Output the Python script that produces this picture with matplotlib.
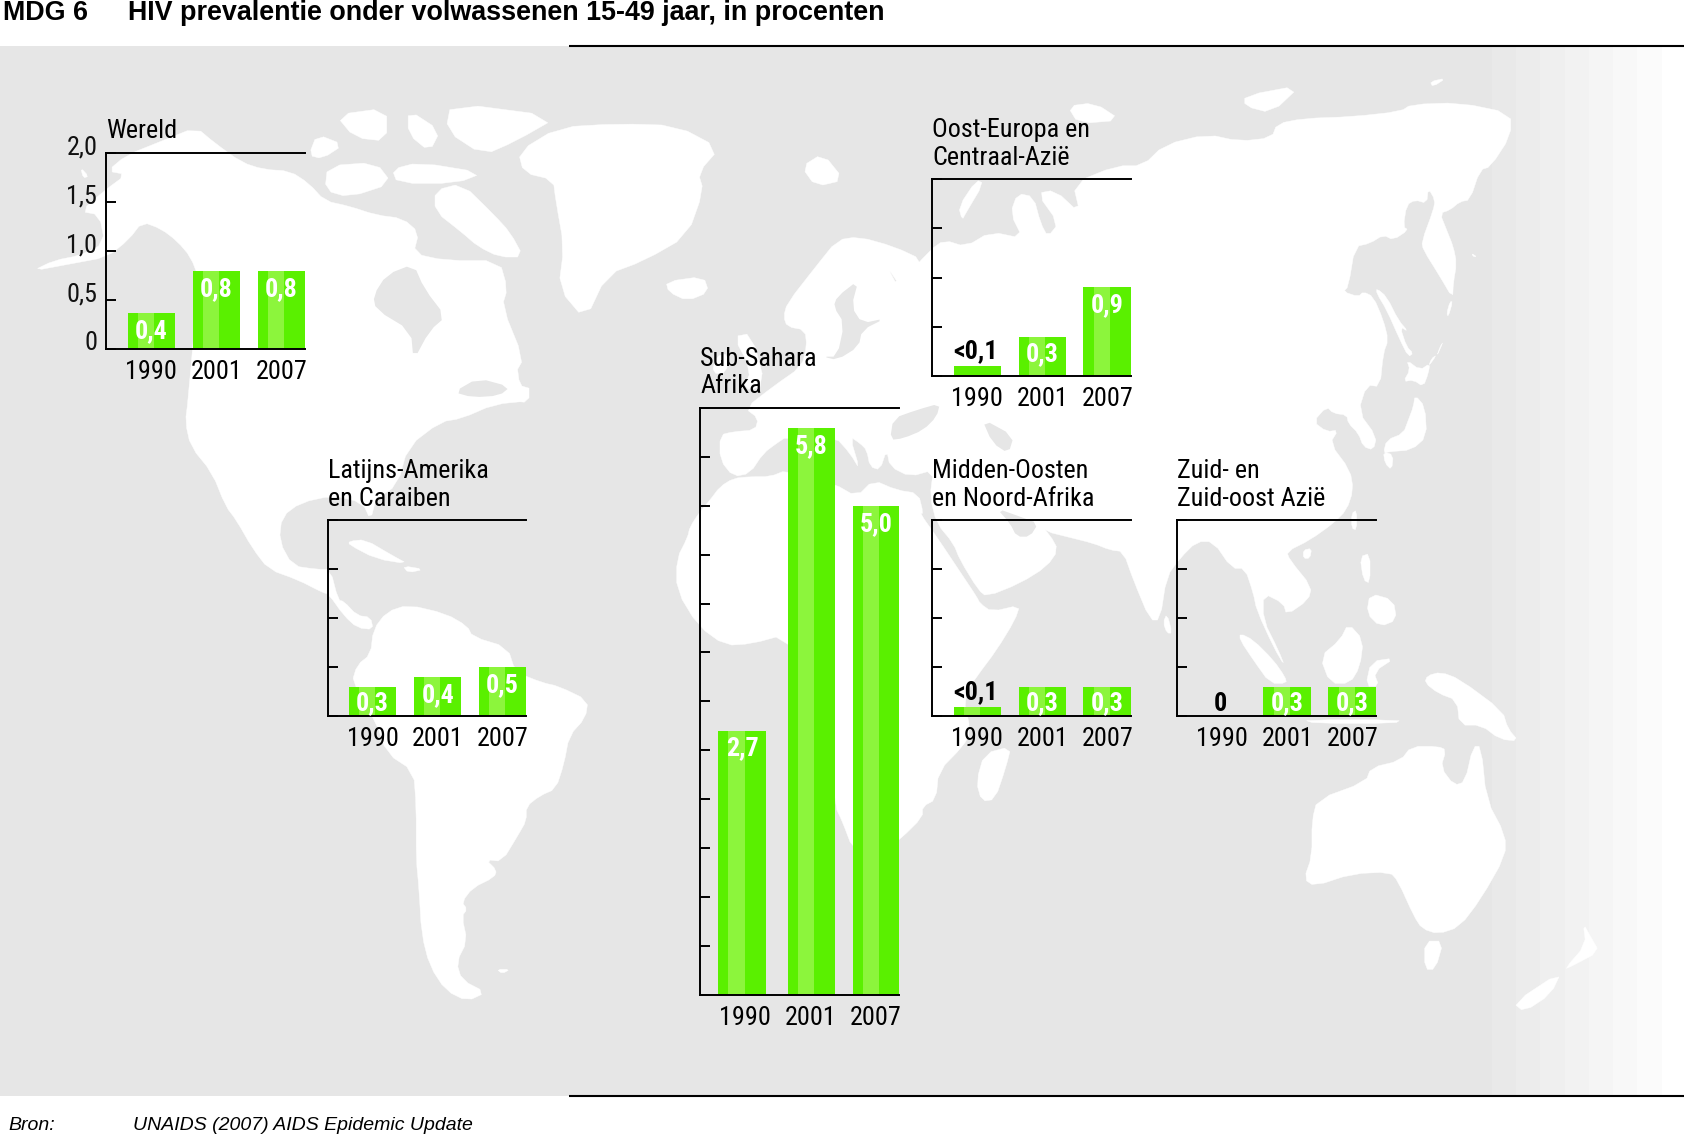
import matplotlib
matplotlib.use("Agg")
import matplotlib.pyplot as plt
from matplotlib.patches import Polygon, Rectangle

# ---------- data ----------
YEARS = ["1990", "2001", "2007"]
WERELD_VALUES = [0.37, 0.8, 0.8]
WERELD_LABELS = ["0,4", "0,8", "0,8"]
LATIJNS_VALUES = [0.3, 0.4, 0.5]
LATIJNS_LABELS = ["0,3", "0,4", "0,5"]
SAHARA_VALUES = [2.7, 5.8, 5.0]
SAHARA_LABELS = ["2,7", "5,8", "5,0"]
OOST_VALUES = [0.1, 0.4, 0.9]
OOST_LABELS = ["<0,1", "0,3", "0,9"]
MIDDEN_VALUES = [0.1, 0.3, 0.3]
MIDDEN_LABELS = ["<0,1", "0,3", "0,3"]
ZUID_VALUES = [0.0, 0.3, 0.3]
ZUID_LABELS = ["0", "0,3", "0,3"]
SMALL_TICKS = [0, 0.5, 1.0, 1.5, 2.0]
SMALL_TICK_LABELS = ["0", "0,5", "1,0", "1,5", "2,0"]
LARGE_TICKS = [0, 0.5, 1, 1.5, 2, 2.5, 3, 3.5, 4, 4.5, 5, 5.5, 6]

W, H = 1684, 1135
DPI = 100
NARROW = ["Roboto Condensed", "Liberation Sans", "DejaVu Sans"]
SANS = ["Liberation Sans", "DejaVu Sans"]
GREEN, LIGHT = "#5AF000", "#8CF53C"
GREY = "#E6E6E6"
FS = 18.8
K = 1684 / 1568  # overview-to-full scale

fig = plt.figure(figsize=(W / DPI, H / DPI), dpi=DPI, facecolor="white")
bg = fig.add_axes([0, 0, 1, 1], zorder=0)
bg.set_xlim(0, W); bg.set_ylim(H, 0); bg.axis("off")

# ---------- background map (decoration) ----------
bg.add_patch(Rectangle((0, 46), 1492, 1050, fc=GREY, ec="none"))
for i, g in enumerate(["#E9E9E9", "#ECECEC", "#EFEFEF", "#F2F2F2", "#F5F5F5", "#F8F8F8", "#FBFBFB"]):
    bg.add_patch(Rectangle((1492 + 24.2 * i, 46), 24.6, 1050, fc=g, ec="none"))

def Z2(p): return [(680 + x / 2.8, 90 + y / 3) for x, y in p]
def Z4(p): return [(x / 1.862, 50 + y / 2.85) for x, y in p]
def Z5(p): return [(842 + x / 1.862, 50 + y / 2.85) for x, y in p]
def Z6(p): return [(x / 1.862, 580 + y / 2.825) for x, y in p]
def Z7(p): return [(842 + x / 1.862, 580 + y / 2.825) for x, y in p]
def Z8(p): return [(920 + x / 3, 480 + y / 3) for x, y in p]
def Z9(p): return [(690 + x / 3, 380 + y / 3) for x, y in p]
def Z10(p): return [(1280 + x / 3, 150 + y / 3) for x, y in p]

def smooth(p, n=1):
    for _ in range(n):
        q = []
        for i in range(len(p)):
            a, b = p[i], p[(i + 1) % len(p)]
            q.append((0.75 * a[0] + 0.25 * b[0], 0.75 * a[1] + 0.25 * b[1]))
            q.append((0.25 * a[0] + 0.75 * b[0], 0.25 * a[1] + 0.75 * b[1]))
        p = q
    return p

north_america = (
    Z4([(60,630),(100,600),(150,585),(195,550),(185,470),(150,460),(195,400),(235,355),(200,345),(235,300),(300,260),(365,220),
        (400,265),(450,320),(490,340),(540,345),(575,380),(605,430),(650,445),(700,470),(750,480),(780,520),(770,580),(830,600),
        (930,600),(945,680),(935,730),(975,880),(960,920),(985,1000),(920,1010),(860,1050),(820,1060),(760,1130),(740,1240),
        (700,1280),(690,1340),(675,1290),(620,1270),(560,1290),(525,1330),(520,1400),(545,1470),(590,1480),(615,1480),(630,1568)])
    + Z6([(640,60),(665,100),(690,105),(695,140),(665,135),(640,100),(612,40),(600,35),(555,0)])
    + Z4([(500,1480),(470,1420),(440,1340),(420,1300),(395,1205),(355,1130),(345,1060),(350,1000),(370,650),(355,590),(330,545),
          (300,510),(265,490),(240,540),(200,590),(130,610)])
)
south_america = Z6([(695,140),(690,210),(665,240),(655,290),(700,400),(720,490),(770,540),(775,640),(775,790),(780,870),(785,1000),
    (800,1090),(830,1160),(870,1190),(905,1165),(860,1130),(850,1080),(870,1020),(860,950),(870,930),(860,910),(880,870),(920,840),
    (925,820),(905,790),(935,795),(965,720),(980,680),(980,640),(1005,610),(1035,590),(1050,520),(1060,440),(1090,390),(1095,340),
    (1040,300),(1010,290),(960,260),(945,190),(880,160),(870,130),(830,95),(760,70),(720,90)])
africa = (
    Z4([(1260,1450),(1280,1390)])
    + Z9([(0,440),(30,395),(60,360),(90,320),(130,295),(180,290),(240,290),(290,270),(430,310),(500,350),(550,300),(620,330),(685,340),(700,400)])
    + Z8([(0,100),(50,170),(130,290),(170,350),(180,370),(215,395),(300,375),(285,420),(230,510),(170,590),(130,650)])
    + Z7([(240,430),(225,470),(180,540),(175,620),(150,640),(150,670),(110,730),(60,790),(20,760),(0,680)])
    + Z6([(1555,640),(1530,300),(1460,155),(1400,180),(1350,185),(1300,130),(1260,30)])
)
eurasia = (
    Z9([(90,240),(90,165),(130,155),(195,150),(205,115),(165,85)])
    + Z2([(260,890),(340,830),(355,770),(350,720),(300,710),(290,680),(300,640),(380,530),(440,450),(500,440),(600,470),(680,510),
          (660,570),(620,595),(580,530),(610,590),(700,480),(740,450),(800,470),(870,425),(960,445),(925,370),(945,310),(990,320),
          (1010,400),(1030,440),(1060,400),(1000,310),(1050,300),(1120,370)])
    + Z5([(430,380),(510,330),(560,330),(600,270),(680,240),(740,260),(800,250),(810,210),(860,195),(950,190),(1040,175),(1060,155),
          (1150,150),(1245,180),(1245,245)])
    + Z10([(632,50),(600,60),(570,150),(540,155),(510,180),(480,190),(500,240),(520,290),(530,340),(520,400),(518,445),(480,380),
           (430,300),(425,275),(460,180),(465,150),(445,115),(440,160),(405,150),(380,165),(370,230),(385,240),(340,270),(310,255),
           (270,280),(225,290),(205,410),(190,425),(235,440),(250,425),(280,440),(310,510),(325,570),(310,610),(300,710),(260,705),
           (235,785),(290,860),(280,900),(250,890),(235,850),(205,820),(200,795),(160,790),(140,770),(100,815),(140,845),(175,840),
           (150,880),(210,960)])
    + Z8([(1300,30),(1280,90),(1240,130),(1170,180),(1100,215),(1110,240),(1175,320),(1165,360),(1100,405),(1090,370),(1030,340),
          (1030,420),(1075,510),(1095,560),(1060,500),(1010,390),(1000,340),(975,265),(935,265),(880,185),(830,185),(780,235),(740,290),
          (720,420),(690,420),(640,300),(610,215),(570,210),(520,190),(440,170),(380,155),(355,130),(390,165),(415,210),(380,260),
          (300,310),(200,350),(175,330),(120,240),(100,190),(50,130)])
    + Z9([(720,350),(730,270),(660,290),(600,260),(590,210),(570,270),(540,260),(530,210),(510,190),(480,170),(510,270),(480,220),
          (435,170),(380,190),(290,170),(260,190),(220,220),(180,280),(130,290)])
)
LAND = [north_america, south_america, africa, eurasia,
    # Arctic and Atlantic
    Z4([(810,400),(860,380),(920,470),(950,520),(975,590),(930,590),(890,560),(860,520),(810,460)]),
    Z4([(965,290),(1040,220),(1150,210),(1260,215),(1340,280),(1300,350),(1310,400),(1280,530),(1200,600),(1130,640),(1090,770),(1040,680),(1050,560),(1035,430),(1030,370),(975,350)]),
    Z4([(1240,660),(1310,645),(1320,690),(1280,715),(1245,690)]),
    Z4([(590,240),(640,270),(600,310),(575,300)]),
    Z4([(610,330),(700,320),(730,380),(650,420),(605,400)]),
    Z4([(840,150),(1040,190),(960,260),(900,300),(830,230)]),
    Z4([(625,185),(720,165),(720,260),(660,250)]),
    Z4([(760,170),(820,230),(800,290),(760,240)]),
    Z4([(730,340),(780,320),(900,350),(850,380),(740,380)]),
    Z4([(150,335),(165,360),(155,365)]),
    Z4([(930,980),(985,950),(985,1005),(950,1000)]),
    Z4([(650,1400),(680,1395),(730,1440),(760,1465),(700,1450),(650,1410)]),
    Z4([(750,1470),(790,1480),(760,1490)]),
    Z6([(925,1100),(950,1100),(935,1112)]),
    Z2([(340,230),(400,190),(460,270),(380,290)]),
    Z2([(150,740),(200,730),(240,890),(175,900),(200,840)]),
    Z2([(100,800),(135,790),(130,850),(90,850)]),
    Z2([(780,350),(830,270),(850,280),(800,370),(790,390)]),
    Z5([(750,130),(855,100),(800,180),(750,160)]),
    Z5([(1095,90),(1125,80),(1100,105)]),
    Z5([(420,160),(470,150),(520,200),(440,210)]),
    # Far East
    Z10([(290,415),(320,440),(355,510),(385,545),(360,530),(380,590),(400,610),(385,620),(360,570),(320,480),(290,430)]),
    Z10([(380,630),(420,660),(450,640),(445,670),(430,710),(400,690),(370,695),(390,660)]),
    Z10([(405,735),(435,770),(440,860),(395,900),(330,905),(310,910),(320,870),(370,850),(385,810),(400,770)]),
    Z10([(310,905),(340,915),(335,960),(315,940)]),
    Z10([(510,455),(518,455),(505,500),(500,490)]),
    Z10([(490,575),(470,620),(480,590)]),
    Z10([(470,615),(445,650),(455,625)]),
    Z10([(575,310),(590,320),(580,320)]),
    # South-east Asia and Oceania
    Z8([(1150,210),(1175,205),(1170,235),(1150,235)]),
    Z8([(1295,100),(1310,90),(1310,150),(1295,145)]),
    Z8([(1320,230),(1350,220),(1350,310),(1330,300)]),
    Z8([(1350,340),(1420,360),(1430,420),(1380,440),(1340,400)]),
    Z8([(960,460),(1000,480),(1060,540),(1095,590),(1100,610),(1050,610),(1000,540),(960,480)]),
    Z8([(1285,430),(1330,480),(1320,560),(1290,610),(1230,610),(1200,530),(1260,480)]),
    Z7([(985,230),(1030,220),(990,260),(1000,300),(975,300)]),
    Z7([(860,395),(1040,395),(1030,405),(880,405)]),
    Z7([(605,95),(615,150),(605,150),(598,120)]),
    Z7([(1090,270),(1115,260),(1150,280),(1230,370),(1240,420),(1260,455),(1225,450),(1190,410),(1150,410),(1145,340),(1110,320),(1085,290)]),
    Z7([(885,620),(975,570),(985,530),(1040,510),(1060,470),(1110,470),(1125,480),(1115,530),(1140,580),(1160,570),(1175,470),(1190,470),(1200,620),(1235,720),(1235,780),(1190,900),(1150,980),(1110,1000),(1080,985),(1065,950),(1035,850),(1020,825),(950,830),(880,865),(860,845),(875,780),(875,680)]),
    Z7([(1085,1020),(1120,1020),(1105,1100),(1085,1100)]),
    Z7([(1380,970),(1395,1010),(1410,1050),(1360,1090),(1345,1100),(1385,1030)]),
    Z7([(1340,1105),(1320,1170),(1270,1220),(1250,1195)]),
    Z7([(315,470),(305,530),(285,620),(260,625),(250,570),(265,490)]),
]
SEAS = [
    Z4([(695,700),(720,640),(770,610),(790,680),(830,760),(800,800),(770,885),(765,800),(700,740)]),
    Z4([(845,975),(890,935),(950,960),(930,985),(880,990)]),
    Z2([(440,800),(460,700),(430,650),(440,620),(500,570),(480,650),(510,700),(575,685),(510,720),(500,770),(440,810),(400,800)]),
    Z9([(600,180),(610,115),(680,90),(750,70),(740,110),(700,150),(640,175)]),
    Z5([(260,1050),(320,1100),(310,1150),(280,1120)]),
    Z8([(230,85),(270,130),(290,170),(330,170),(355,130),(300,110)]),
]
for poly in LAND:
    bg.add_patch(Polygon(smooth(poly), closed=True, fc="white", ec="white", lw=0.3))
for poly in SEAS:
    bg.add_patch(Polygon(smooth(poly), closed=True, fc=GREY, ec="none"))

bg.plot([569, W], [46, 46], color="black", lw=1.5, solid_capstyle="butt")
bg.plot([569, W], [1096, 1096], color="black", lw=1.5, solid_capstyle="butt")

# ---------- fixed texts ----------
bg.text(3, 13, "MDG 6", family=SANS, weight="bold", fontsize=19.4, va="center", ha="left")
bg.text(127.5, 13, "HIV prevalentie onder volwassenen 15-49 jaar, in procenten",
        family=SANS, weight="bold", fontsize=19.4, va="center", ha="left")
bg.text(8, 1125, "Bron:", family=SANS, style="italic", fontsize=14, va="center", ha="left")
bg.text(133, 1125, "UNAIDS (2007) AIDS Epidemic Update", family=SANS, style="italic", fontsize=14, va="center", ha="left")

# ---------- panels ----------
def panel(left, top, bottom, title, values, labels, ymax, ticks, plain=(), tick_labels=None, nudge=(0, 0, 0)):
    x0, x1 = left * K, (left + 185) * K
    y0, y1 = bottom * K, top * K
    ax = fig.add_axes([x0 / W, 1 - y0 / H, (x1 - x0) / W, (y0 - y1) / H], zorder=2)
    ax.patch.set_alpha(0)
    step = 60.5
    ax.set_xlim(-42 / step, 143 / step)
    ax.set_ylim(0, ymax)
    width = 44.3 / step
    pos = [i + nudge[i] for i in range(3)]
    ax.bar(pos, values, width=width, color=GREEN, linewidth=0, zorder=2)
    for i, (p, v) in enumerate(zip(pos, values)):
        if i not in plain:
            ax.bar(p - width / 2 + 0.214 * width, v, width=0.343 * width, align="edge", color=LIGHT, linewidth=0, zorder=2.1)
    for p, v, lab in zip(pos, values, labels):
        if lab.startswith("<") or v == 0:
            ax.annotate(lab, (p - 0.03, v), xytext=(0, 10.5 if v else 9), textcoords="offset points", ha="center",
                        va="center", family=NARROW, weight="bold", fontsize=FS, color="black", zorder=3)
        else:
            off = -11.5 if v <= 0.31 else -13
            ax.annotate(lab, (p, v), xytext=(0, off), textcoords="offset points", ha="center", va="center",
                        family=NARROW, weight="bold", fontsize=FS, color="white", zorder=3)
    ax.spines["right"].set_visible(False)
    for s in ("left", "top", "bottom"):
        ax.spines[s].set_linewidth(1.4)
    ax.set_xticks(range(3))
    ax.set_xticklabels(YEARS, family=NARROW, fontsize=FS)
    ax.tick_params(axis="x", length=0, pad=8)
    ax.set_yticks(ticks)
    ax.set_yticklabels([])
    if tick_labels:
        for t, lab in zip(ticks, tick_labels):
            ax.annotate(lab, (0, t), xycoords=("axes fraction", "data"), xytext=(-6.5, 4.3), textcoords="offset points",
                        ha="right", va="center", family=NARROW, fontsize=FS, color="#111111")
    ax.tick_params(axis="y", direction="in", length=7.5, width=1.4)
    ax.annotate(title, (0, 1), xycoords="axes fraction", xytext=(0, 7), textcoords="offset points",
                ha="left", va="bottom", family=NARROW, fontsize=FS, linespacing=1.2)
    return ax

panel(99, 142.5, 325, "Wereld", WERELD_VALUES, WERELD_LABELS, 2.0, SMALL_TICKS, tick_labels=SMALL_TICK_LABELS)
panel(305, 484.5, 667, "Latijns-Amerika\nen Caraiben", LATIJNS_VALUES, LATIJNS_LABELS, 2.0, SMALL_TICKS)
panel(652, 380, 926, "Sub-Sahara\nAfrika", SAHARA_VALUES, SAHARA_LABELS, 6.0, LARGE_TICKS, nudge=(-0.05, 0.017, 0.017))
panel(868, 167, 350, "Oost-Europa en\nCentraal-Azië", OOST_VALUES, OOST_LABELS, 2.0, SMALL_TICKS, plain=(0,))
panel(868, 484.5, 667, "Midden-Oosten\nen Noord-Afrika", MIDDEN_VALUES, MIDDEN_LABELS, 2.0, SMALL_TICKS)
panel(1096, 484.5, 667, "Zuid- en\nZuid-oost Azië", ZUID_VALUES, ZUID_LABELS, 2.0, SMALL_TICKS)

fig.savefig("out.png", dpi=DPI, facecolor="white")
